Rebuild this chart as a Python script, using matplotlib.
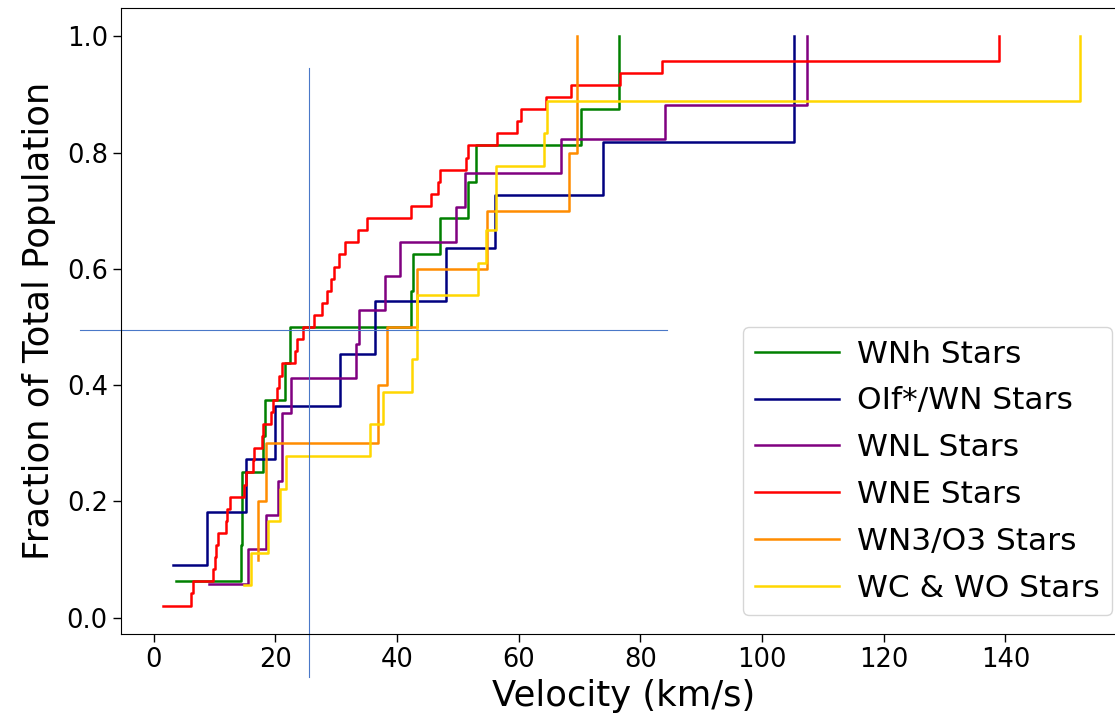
import numpy as np
import matplotlib.pyplot as plt

# velocities in km/s for each spectral group
wnh_vel = [3.7, 14.25, 14.5, 14.5, 18.0, 18.3, 21.6, 22.4, 42.3, 42.6, 47.0,
           51.7, 53.0, 70.3, 76.5, 76.5]
oif_vel = [3.2, 8.7, 15.1, 19.9, 30.6, 36.4, 48.1, 56.1, 73.8, 105.3, 105.3]
wnl_vel = [9.1, 15.5, 18.5, 20.4, 21.0, 21.0, 22.5, 33.2, 33.8, 38.0, 40.4,
           49.6, 51.1, 67.0, 84.0, 107.3, 107.3]
wne_vel = [1.5, 6.1, 6.5, 9.75, 10.0, 10.2, 10.6, 11.8, 12.0, 12.6, 14.9,
           15.1, 16.3, 16.5, 17.7, 17.9, 19.3, 19.6, 20.3, 20.6, 21.0, 23.2,
           23.5, 24.6, 26.3, 27.7, 28.5, 29.2, 29.6, 30.5, 31.4, 33.6, 35.1,
           42.2, 45.5, 46.7, 47.1, 51.3, 51.7, 56.4, 59.7, 60.4, 64.4, 68.5,
           76.6, 83.5, 139.0, 139.0]
wn3_vel = [17.2, 17.2, 18.5, 36.8, 38.4, 43.2, 54.7, 68.3, 69.6, 69.6]
wcwo_vel = [14.8, 15.9, 18.8, 20.7, 21.8, 35.5, 37.7, 42.4, 43.2, 43.2, 53.3,
            54.6, 56.3, 56.3, 64.1, 64.6, 152.2, 152.2]

labels = ["WNh Stars", "OIf*/WN Stars", "WNL Stars", "WNE Stars",
          "WN3/O3 Stars", "WC & WO Stars"]
colours = ["green", "navy", "purple", "red", "darkorange", "gold"]

# guide lines marking the half-population point
guide_vel = 25.5
guide_frac = 0.495

fig = plt.figure(figsize=(11.15, 7.18), dpi=100)
ax = fig.add_axes([0.1085, 0.117, 0.9013, 0.8719])

for vel, lab, col in zip([wnh_vel, oif_vel, wnl_vel, wne_vel, wn3_vel, wcwo_vel],
                         labels, colours):
    v = np.sort(vel)
    frac = np.arange(1, len(v) + 1) / len(v)
    ax.step(v, frac, where='post', color=col, lw=1.8, label=lab)

ax.set_xlim(-5.4, 159.8)
ax.set_ylim(-0.028, 1.049)

ax.plot([guide_vel, guide_vel], [-0.102, 0.9455], color='#4a78c8', lw=0.8,
        clip_on=False)
ax.plot([-12.2, 84.3], [guide_frac, guide_frac], color='#4a78c8', lw=0.8,
        clip_on=False)

ax.set_xlabel("Velocity (km/s)", fontsize=25.5)
ax.set_ylabel("Fraction of Total Population", fontsize=25.5, labelpad=8)
ax.tick_params(labelsize=18.5, length=6, width=1)

ax.legend(loc='lower right', bbox_to_anchor=(0.986, 0.03), borderaxespad=0,
          fontsize=22.5, handlelength=2.7, handletextpad=0.55,
          labelspacing=0.57)

fig.savefig("out.png", dpi=100)
